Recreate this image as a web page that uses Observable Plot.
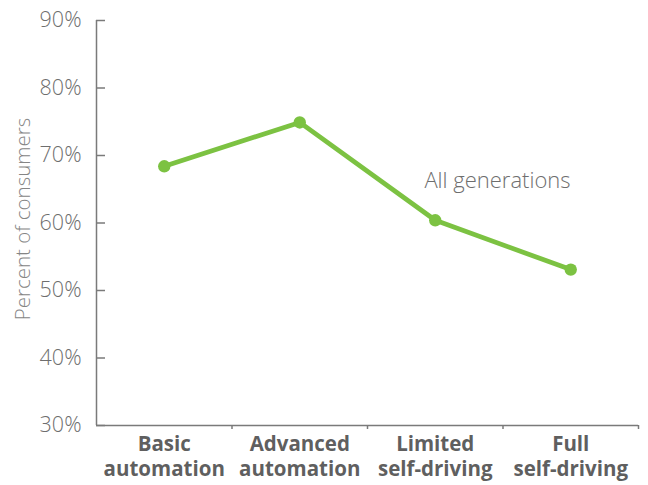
<!DOCTYPE html>
<html>
<head>
<meta charset="utf-8">
<script src="https://cdn.jsdelivr.net/npm/d3@7"></script>
<script src="https://cdn.jsdelivr.net/npm/@observablehq/plot@0.6"></script>
<style>
  body { margin: 0; background: #fff; }
  #chart { width: 648px; height: 485px; overflow: hidden; }
</style>
</head>
<body>
<div id="chart"></div>
<script>
// Stages of vehicle automation and the share of consumers interested in each
const stages = ["Basic automation", "Advanced automation", "Limited self-driving", "Full self-driving"];
const shares = [68.4, 74.9, 60.4, 53.1];
const yTicks = [30, 40, 50, 60, 70, 80, 90];
const seriesLabel = "All generations";
const yLabel = "Percent of consumers";

const data = stages.map((stage, i) => ({i, stage, share: shares[i]}));
// index-based x so the category boundaries fall on half steps
const xDomain = [-0.5, stages.length - 0.5];
const boundaries = stages.map((_, i) => i + 0.5);
const centers = stages.map((_, i) => i);

const green = "#7cc242";
const axisColor = "#7a7a7a";
const textColor = "#6e6e6e";

const chart = Plot.plot({
  width: 648,
  height: 485,
  marginLeft: 96,
  marginRight: 10,
  marginTop: 20,
  marginBottom: 60,
  style: {fontFamily: "'Open Sans', sans-serif", background: "#fff", overflow: "visible"},
  x: {domain: xDomain, axis: null},
  y: {domain: [yTicks[0], yTicks[yTicks.length - 1]], axis: null},
  marks: [
    // y axis labels
    Plot.axisY(yTicks, {
      anchor: "left",
      tickSize: 0,
      tickPadding: 15,
      fill: textColor,
      fontSize: 21.5,
      fontWeight: 300,
      tickFormat: d => d + "%",
      label: null
    }),
    // y axis ticks, pointing into the plot from the axis line
    Plot.ruleY(yTicks, {
      y: d => d,
      x1: xDomain[0],
      x2: xDomain[0],
      insetRight: -9,
      stroke: axisColor,
      strokeWidth: 1.5
    }),
    Plot.ruleX([xDomain[0]], {stroke: axisColor, strokeWidth: 1.5}),
    // x axis: baseline, ticks at category boundaries and the category names
    Plot.ruleY([yTicks[0]], {stroke: axisColor, strokeWidth: 1.5}),
    Plot.axisX(boundaries, {
      anchor: "bottom",
      tickSize: 4,
      strokeWidth: 1.5,
      stroke: axisColor,
      tickFormat: () => "",
      label: null
    }),
    Plot.axisX(centers, {
      anchor: "bottom",
      tickSize: 0,
      tickPadding: 8,
      fill: "#5f5f5f",
      fontSize: 20.5,
      fontWeight: "bold",
      lineHeight: 1.22,
      tickFormat: i => stages[i].replace(" ", "\n"),
      label: null
    }),
    // the series
    Plot.line(data, {x: "i", y: "share", stroke: green, strokeWidth: 4.8}),
    Plot.dot(data, {x: "i", y: "share", r: 6.2, fill: green}),
    Plot.text([seriesLabel], {
      x: 1.92, y: 66.3,
      text: d => d,
      textAnchor: "start",
      fill: textColor,
      fontSize: 22,
      fontWeight: 300
    }),
    // y axis title
    Plot.text([yLabel], {
      frameAnchor: "left",
      textAnchor: "middle",
      dx: -73,
      dy: -4,
      rotate: -90,
      text: d => d,
      fill: "#858585",
      fontSize: 20.5,
      fontWeight: 300
    })
  ]
});

document.getElementById("chart").appendChild(chart);
</script>
</body>
</html>
